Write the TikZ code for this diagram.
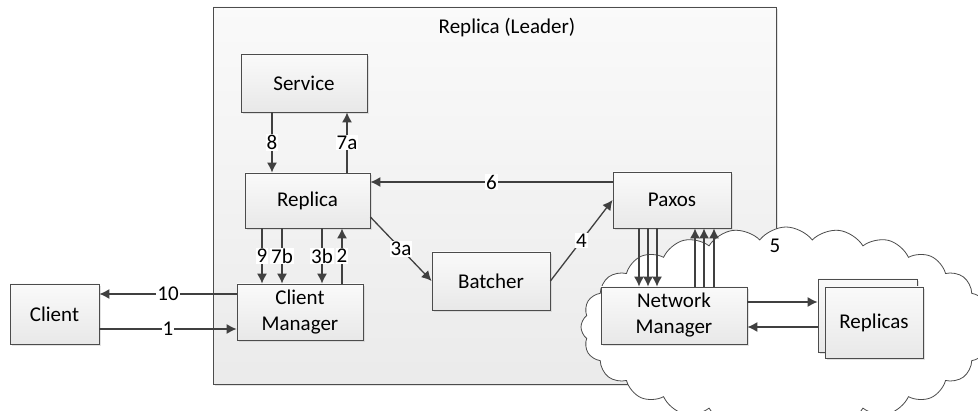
\documentclass[tikz,border=0pt]{standalone}
\usepackage{fontspec}
\setmainfont{Carlito}
\usetikzlibrary{arrows.meta,shapes.symbols,shadows}

\begin{document}
\begin{tikzpicture}[x=1pt,y=-1pt,
    font=\fontsize{21}{26}\selectfont,
    box/.style={draw=black!70, line width=0.8pt, top color=white!98!black, bottom color=white!91!black,
      drop shadow={shadow xshift=2pt,shadow yshift=-2pt,fill=black!22}, align=center, inner sep=0pt},
    arr/.style={draw=black!75, line width=1.3pt, -{Latex[length=10pt,width=10pt]}},
    lbl/.style={fill=white, inner sep=1pt}]
    \useasboundingbox (0,0) rectangle (978,411);
    \clip (0,0) rectangle (978,411);

    % replica (leader)
    \node[box, top color=white!98!black, bottom color=white!92!black, minimum width=563, minimum height=377] (leader) at (494.5,195.5) {};
    \node (title) at (507,28) {Replica (Leader)};

    % network
    \node[cloud, draw=black!70, line width=0.8pt, fill=white, cloud puffs=24, cloud puff arc=105,
      minimum width=410, minimum height=200] (net) at (786,327) {};
    \node (five) at (775,246) {5};

    % components
    \node[box, minimum width=126, minimum height=58] (service) at (304,83) {Service};
    \node[box, minimum width=125, minimum height=55] (replica) at (307.5,200.5) {Replica};
    \node[box, minimum width=126, minimum height=56] (cm) at (300,312) {Client\\Manager};
    \node[box, minimum width=89, minimum height=60] (client) at (54.5,314) {Client};
    \node[box, minimum width=118, minimum height=58] (batcher) at (491,281) {Batcher};
    \node[box, minimum width=118, minimum height=56] (paxos) at (672,200) {Paxos};
    \node[box, minimum width=146, minimum height=57] (nm) at (674,315.5) {Network\\Manager};
    \node[box, minimum width=99, minimum height=73] (rback) at (867.5,315.5) {};
    \node[box, minimum width=98, minimum height=71] (replicas) at (874,322.5) {Replicas};

    %arrows
    \draw[arr] (client.east |- 0,329) -- node[lbl]{1} (cm.west |- 0,329);
    \draw[arr] (cm.north -| 342,0) -- node[lbl]{2} (replica.south -| 342,0);
    \foreach \x/\t in {262/9, 282/7b, 322/3b} {
        \draw[arr] (replica.south -| \x,0) -- node[lbl]{\t} (cm.north -| \x,0);
      }
    \draw[arr] (replica.east |- 0,217) -- node[lbl]{3a} (batcher.west);
    \draw[arr] (batcher.east) -- node[lbl]{4} (paxos.west);
    \foreach \x in {639,648,657} {
        \draw[arr] (paxos.south -| \x,0) -- (nm.north -| \x,0);
      }
    \foreach \x in {695,704,714} {
        \draw[arr] (nm.north -| \x,0) -- (paxos.south -| \x,0);
      }
    \draw[arr] (nm.east |- 0,302) -- (rback.west |- 0,302);
    \draw[arr] (rback.west |- 0,327) -- (nm.east |- 0,327);
    \draw[arr] (paxos.west |- 0,182) -- node[lbl]{6} (replica.east |- 0,182);
    \draw[arr] (replica.north -| 347,0) -- node[lbl]{7a} (service.south -| 347,0);
    \draw[arr] (service.south -| 272,0) -- node[lbl]{8} (replica.north -| 272,0);
    \draw[arr] (cm.west |- 0,294) -- node[lbl]{10} (client.east |- 0,294);
  \end{tikzpicture}
\end{document}
